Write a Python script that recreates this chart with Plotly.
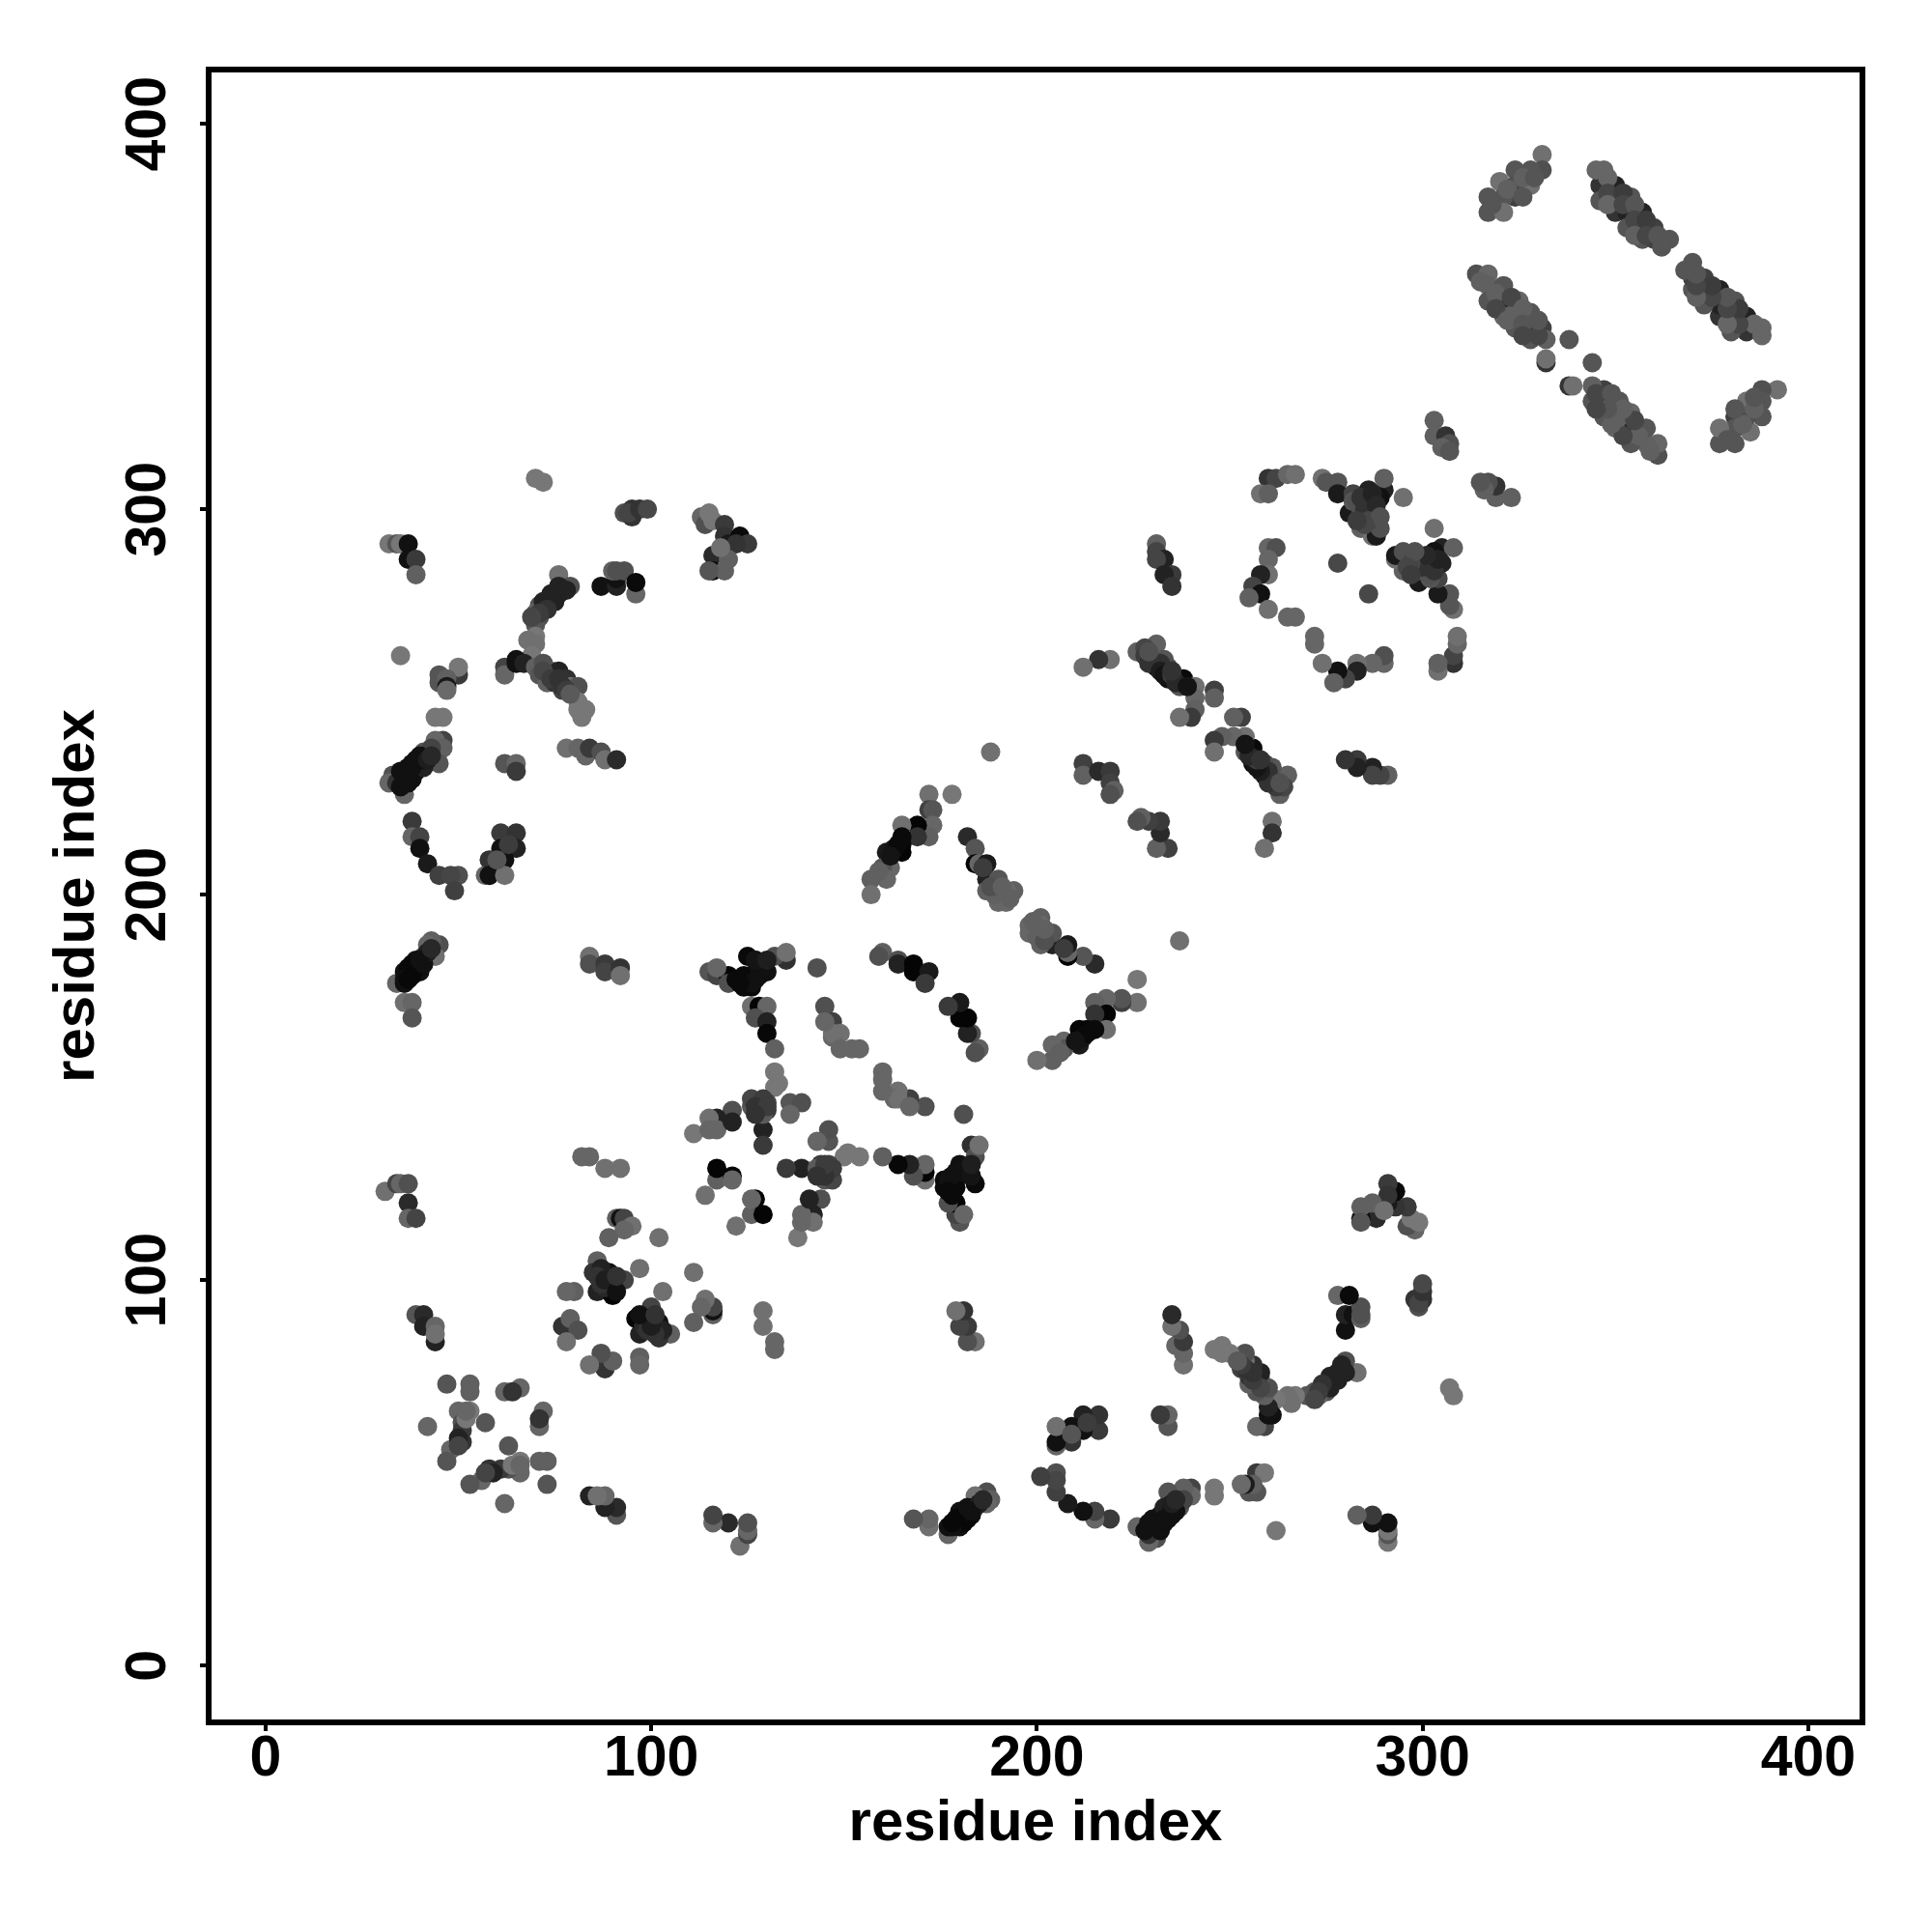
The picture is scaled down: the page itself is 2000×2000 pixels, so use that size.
import plotly.graph_objects as go

contact_i = [
 70,72,
 93,95,95,94,97,99,
 113,114,115,116,119,119,120,123,125,122,116,120,116,119,115,118,
 32,34,35,37,37,39,39,
 76,79,77,76,74,73,71,72,70,71,70,70,68,70,69,
 62,62,65,65,67,
 70,72,71,73,74,76,75,78,77,79,81,81,83,81,82,
 35,
 45,45,50,50,47,47,47,
 44,46,
 46,44,46,45,41,43,42,39,38,40,37,39,36,38,36,33,32,34,36,41,
 62,65,65,
 78,81,83,84,87,88,91,
 38,38,40,40,42,45,50,48,49,
 61,65,65,61,62,58,57,59,58,62,60,63,
 34,45,43,42,44,41,39,38,40,36,38,36,
 36,38,38,
 84,84,88,88,92,92,
 115,117,117,120,125,127,129,127,130,125,126,135,132,135,
 143,
 126,128,130,127,130,130,132,
 132,133,132,
 126,128,130,128,130,129,129,136,139,136,121,117,115,117,111,115,121,
 117,117,121,121,114,
 31,34,35,37,37,37,39,
 84,82,88,92,
 91,92,93,95,93,89,102,
 86,85,89,93,97,86,90,90,87,80,78,77,79,81,78,
 39,41,41,44,44,44,
 47,53,53,62,66,64,42,50,53,57,51,51,51,48,47,52,50,50,52,
 145,147,149,147,147,149,152,154,145,
 188,
 172,178,172,173,173,172,169,169,165,165,165,165,161,162,160,161,157,157,159,
 182,184,184,185,187,187,190,187,190,192,194,192,189,
 160,159,164,164,168,168,172,171,
 120,117,
 260,262,265,267,258,260,
 274,275,278,278,282,281,282,286,286,290,289,290,295,284,288,284,287,288,289,283,278,
 231,231,233,231,235,233,235,
 260,262,260,260,258,256,258,255,260,265,267,
 227,226,231,230,233,231,234,234,238,237,241,241,241,240,237,246,246,219,216,212,
 212,212,216,219,219,220,219,
 87,91,91,90,91,93,96,96,
 331,331,328,324,320,328,324,324,321,317,317,321,
 347,346,350,346,350,354,350,353,357,353,357,360,357,360,364,
 314,317,317,317,321,321,321,325,324,324,328,328,328,331,332,332,332,338,
 303,303,306,307,305,307,
 348,345,348,352,348,352,355,355,358,355,358,361,362,
 315,319,319,323,322,326,326,326,330,330,
 318,322,326,329,326,
 35,37,38,40,41,42,43,35,37,
 37,39,41,42,36,37,40,43,
 122,124,126,128,124,126,128,129,127,130,123,
 72,74,75,73,76,78,71,69,
 72,74,76,77,78,79,
 228,228,229,232,232,233,235,236,235,229,239,
 126,128,129,127,129,130,127,
 163,164,162,186,188,191,193,
 284,285,287,288,286,289,285,283,
 87,88,87,86,88,91,91,
]
contact_j = [
 308,307,
 299,300,298,299,300,300,
 298,296,299,297,296,293,291,293,291,291,288,287,284,284,284,290,
 291,291,291,291,287,287,283,
 283,280,279,278,277,276,275,274,273,272,270,267,266,265,262,
 259,257,261,260,260,
 259,260,257,255,258,258,255,256,253,254,254,250,248,248,246,
 262,
 257,255,257,259,256,254,253,
 246,246,
 240,240,238,234,237,238,236,235,234,234,233,232,231,230,229,231,229,229,226,233,
 234,234,232,
 238,238,236,238,237,235,235,
 219,215,215,212,208,205,205,205,201,
 216,216,212,212,209,209,205,207,205,205,209,213,
 177,187,188,187,184,184,183,182,180,180,179,177,
 172,172,168,
 184,182,182,180,181,179,
 180,180,179,179,178,178,181,183,180,184,176,183,184,185,
 181,
 171,171,171,168,167,164,160,
 154,151,150,
 145,146,146,144,144,139,135,146,146,143,144,142,142,139,138,139,141,
 126,129,127,126,122,
 123,125,125,125,120,116,116,
 132,132,129,129,
 116,116,116,114,113,111,111,
 105,102,102,100,103,97,96,99,100,97,97,88,90,87,84,
 91,91,88,88,84,86,
 73,73,71,71,72,71,62,66,66,63,63,61,58,56,53,64,59,57,66,
 171,167,164,163,164,160,160,160,167,
 237,
 226,226,222,222,218,215,218,215,218,215,213,211,211,207,207,204,204,200,206,
 215,212,208,208,208,204,204,201,198,198,201,201,200,
 185,184,183,182,182,180,180,177,
 177,181,
 308,308,309,309,304,304,
 308,307,307,304,304,299,302,305,302,305,303,308,303,299,299,295,293,293,295,302,286,
 291,289,287,287,283,283,280,
 290,290,287,283,283,280,278,277,274,272,272,
 263,263,265,261,261,259,259,256,256,254,254,251,248,246,246,253,251,261,261,259,
 234,231,232,232,229,227,226,
 280,280,282,284,284,284,278,281,
 392,388,388,388,385,384,384,381,381,381,377,377,
 388,384,384,380,381,381,377,377,377,373,373,373,370,370,370,
 361,361,358,354,358,353,350,354,351,347,351,347,344,347,344,338,339,344,
 323,319,319,317,316,315,
 386,388,382,382,379,379,379,375,375,371,371,371,368,
 359,356,352,355,349,352,348,345,345,349,
 379,383,386,386,381,
 232,231,233,236,235,235,236,228,229,
 181,181,182,185,178,178,183,186,
 178,179,179,181,176,177,179,181,183,183,177,
 276,278,276,274,280,279,273,272,
 258,256,256,254,253,252,
 264,262,260,260,258,257,257,255,258,263,254,
 147,145,147,145,143,145,143,
 212,213,210,207,202,202,199,
 303,300,304,301,297,298,296,297,
 103,98,99,101,100,97,101,
]
shade = [
 119,119,
 80,51,51,68,51,72,
 102,80,119,119,58,51,26,10,58,51,42,96,10,96,85,112,
 119,85,119,17,17,58,96,
 112,80,34,34,34,34,85,51,96,80,85,119,112,112,119,
 68,102,17,17,34,
 96,80,85,96,85,34,51,48,68,112,80,119,119,119,119,
 119,
 85,85,58,119,96,26,106,
 119,119,
 68,102,96,85,85,68,68,17,17,17,17,17,17,17,17,80,102,51,102,34,
 85,102,58,
 112,102,102,58,80,112,42,
 58,102,68,17,26,64,80,70,64,
 58,51,34,17,17,51,102,51,17,112,85,60,
 102,80,96,102,112,68,17,10,17,17,8,17,
 112,102,85,
 112,80,58,68,51,112,
 85,80,68,5,5,17,17,34,17,10,10,48,80,112,
 80,
 112,5,102,80,34,8,96,
 119,119,119,
 85,96,68,51,60,34,58,85,80,102,80,34,112,102,119,102,34,
 96,5,5,102,112,
 112,68,102,80,42,102,68,
 102,102,112,112,
 96,17,68,112,102,96,112,
 96,51,17,68,112,34,5,17,48,96,102,51,96,80,112,
 85,42,34,102,34,112,
 85,96,96,102,102,51,102,102,119,85,80,58,51,102,85,119,34,68,102,
 80,64,112,102,112,102,102,102,102,
 112,
 112,119,64,85,102,96,5,51,112,10,10,5,26,102,85,102,96,112,96,
 42,85,5,102,26,34,85,96,102,102,96,106,96,
 96,80,80,34,5,5,26,58,
 80,102,
 51,68,102,112,112,96,
 112,85,85,26,68,26,85,34,17,34,17,96,112,80,85,96,112,26,80,80,72,
 96,68,34,68,58,34,51,
 102,80,102,112,34,68,17,96,112,102,102,
 68,96,96,5,85,10,80,17,10,85,112,102,96,58,112,64,96,112,51,112,
 64,96,42,58,64,96,80,
 17,34,17,96,80,80,102,10,
 112,80,85,85,112,112,80,64,85,85,85,112,
 102,51,34,85,34,85,51,34,34,85,58,64,85,64,85,
 80,102,96,85,85,42,102,102,96,85,85,34,85,64,96,51,112,85,
 96,96,51,80,96,85,
 102,102,70,60,102,70,85,70,60,96,70,85,85,
 96,96,70,70,96,96,85,70,70,85,
 85,96,96,85,85,
 17,17,17,17,17,30,40,17,17,
 8,8,17,30,17,8,17,40,
 10,10,10,17,10,17,17,17,20,30,10,
 34,34,34,50,34,34,60,70,
 70,60,50,50,60,90,
 70,60,50,50,30,20,60,40,50,80,20,
 70,50,60,50,90,60,50,
 20,10,20,60,80,96,96,
 50,50,34,40,70,80,70,60,
 34,40,50,50,30,17,50,
]
# Second half of the symmetric map.
residue_x = contact_i + contact_j
residue_y = contact_j + contact_i
shade_all = shade + shade
colors = [f"rgb({g},{g},{g})" for g in shade_all]

tick_values = [0, 100, 200, 300, 400]
axis_label = "residue index"
FONT = "Liberation Sans"

fig = go.Figure(go.Scatter(
    x=residue_x, y=residue_y, mode="markers",
    marker=dict(size=20, color=colors, line=dict(width=0)),
    hoverinfo="skip", showlegend=False,
))

axis = dict(
    range=[-14.0, 413.3], tickmode="array", tickvals=tick_values,
    ticktext=[str(v) for v in tick_values],
    showgrid=False, zeroline=False, showline=True, mirror=True,
    linecolor="black", linewidth=6,
    ticks="outside", ticklen=6, tickwidth=4, tickcolor="black",
    tickfont=dict(family=FONT, size=59, color="black", weight="bold"),
    automargin=False,
)
fig.update_layout(
    width=1984, height=1984,
    paper_bgcolor="white", plot_bgcolor="white",
    margin=dict(l=211, r=67, t=67, b=212, autoexpand=False),
    xaxis=dict(axis, ticklabelstandoff=-25, title=dict(text=axis_label, standoff=14,
               font=dict(family=FONT, size=60, color="black", weight="bold"))),
    yaxis=dict(axis, tickangle=-90, ticklabelstandoff=12, ticklabelshift=9,
               title=dict(text=axis_label, standoff=3,
               font=dict(family=FONT, size=60, color="black", weight="bold"))),
)
fig.write_html("out.html")
